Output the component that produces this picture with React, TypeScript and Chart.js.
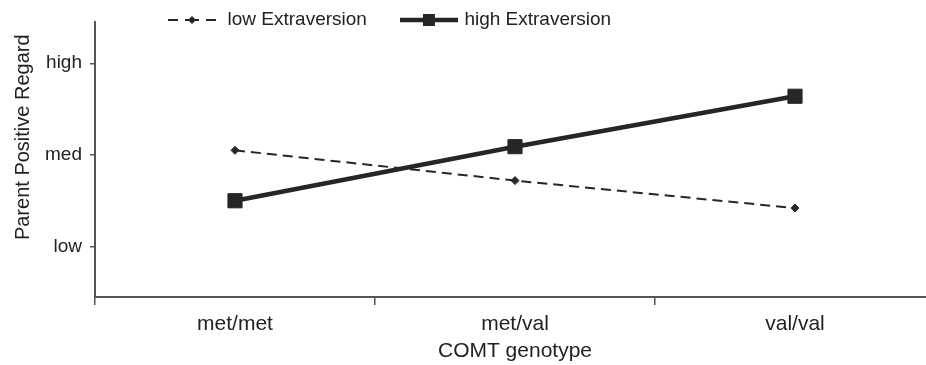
import React, { useEffect, useRef } from 'react';
import { Chart, registerables } from 'chart.js';

Chart.register(...registerables);

const categories = ['met/met', 'met/val', 'val/val'];
const lowExtraversion = [2.05, 1.72, 1.42];
const highExtraversion = [1.5, 2.09, 2.64];
const yTickValues = [1, 2, 3];
const yTickLabels = ['low', 'med', 'high'];
const seriesNames = ['low Extraversion', 'high Extraversion'];
const xTitle = 'COMT genotype';
const yTitle = 'Parent Positive Regard';

const FONT = "'Liberation Sans', Arial, Helvetica, sans-serif";
const INK = '#262626';
const TEXT = '#222222';
const AXIS = '#555555';

const LEGEND_PAD = 36;
const LEGEND_FONT = 19;
const PLOT_TOP = 22;

function makeDashedSample(): HTMLCanvasElement {
  const c = document.createElement('canvas');
  c.width = 50;
  c.height = 12;
  const ctx = c.getContext('2d')!;
  ctx.strokeStyle = INK;
  ctx.lineWidth = 2;
  ctx.beginPath();
  ctx.moveTo(1, 6); ctx.lineTo(11, 6);
  ctx.moveTo(18, 6); ctx.lineTo(32, 6);
  ctx.moveTo(39, 6); ctx.lineTo(49, 6);
  ctx.stroke();
  ctx.fillStyle = INK;
  ctx.beginPath();
  ctx.moveTo(25, 2); ctx.lineTo(29, 6); ctx.lineTo(25, 10); ctx.lineTo(21, 6);
  ctx.closePath();
  ctx.fill();
  return c;
}

function makeSolidSample(): HTMLCanvasElement {
  const c = document.createElement('canvas');
  c.width = 58;
  c.height = 16;
  const ctx = c.getContext('2d')!;
  ctx.strokeStyle = INK;
  ctx.lineWidth = 4.5;
  ctx.beginPath();
  ctx.moveTo(0, 8); ctx.lineTo(58, 8);
  ctx.stroke();
  ctx.fillStyle = INK;
  ctx.fillRect(23, 2, 12, 12);
  return c;
}

const legendPlacement = {
  id: 'legendPlacement',
  afterLayout(chart: any) {
    const lg = chart.legend;
    if (!lg) return;
    const w = lg.right - lg.left;
    const h = lg.bottom - lg.top;
    lg.left = 166 - LEGEND_PAD;
    lg.right = lg.left + w;
    lg.top = 20 - LEGEND_PAD - LEGEND_FONT / 2;
    lg.bottom = lg.top + h + 20;
  },
};

export default function App() {
  const ref = useRef<HTMLCanvasElement | null>(null);

  useEffect(() => {
    if (!ref.current) return;
    const samples = [makeDashedSample(), makeSolidSample()];
    const chart = new Chart(ref.current, {
      type: 'line',
      data: {
        labels: categories,
        datasets: [
          {
            label: seriesNames[0],
            data: lowExtraversion,
            borderColor: INK,
            borderWidth: 2,
            borderDash: [10, 6],
            pointStyle: 'rectRot',
            pointRadius: 4,
            pointBackgroundColor: INK,
            pointBorderColor: INK,
            pointBorderWidth: 1,
            fill: false,
            tension: 0,
            order: 1,
          },
          {
            label: seriesNames[1],
            data: highExtraversion,
            borderColor: INK,
            borderWidth: 4.5,
            pointStyle: 'rect',
            pointRadius: 10,
            pointBackgroundColor: INK,
            pointBorderColor: INK,
            pointBorderWidth: 1,
            fill: false,
            tension: 0,
            order: 0,
          },
        ],
      },
      options: {
        responsive: false,
        animation: false,
        devicePixelRatio: 1,
        layout: {
          autoPadding: false,
          padding: { top: 8 - (LEGEND_FONT + 2 * LEGEND_PAD), left: 0, right: 0, bottom: 0 },
        },
        plugins: {
          tooltip: { enabled: false },
          legend: {
            display: true,
            position: 'top',
            align: 'start',
            labels: {
              usePointStyle: true,
              pointStyleWidth: 52,
              padding: LEGEND_PAD,
              color: TEXT,
              font: { family: FONT, size: LEGEND_FONT },
              generateLabels: (ch: any) =>
                ch.data.datasets.map((ds: any, i: number) => ({
                  text: ds.label,
                  pointStyle: samples[i],
                  datasetIndex: i,
                  hidden: false,
                  fillStyle: INK,
                  strokeStyle: INK,
                  lineWidth: 0,
                  fontColor: TEXT,
                })),
            },
          },
        },
        scales: {
          x: {
            type: 'category',
            offset: true,
            grid: {
              offset: true,
              drawOnChartArea: false,
              drawTicks: true,
              tickLength: 8,
              color: AXIS,
              lineWidth: 1.5,
            },
            border: { display: true, color: AXIS, width: 2 },
            ticks: {
              color: TEXT,
              font: { family: FONT, size: 21, lineHeight: 1 },
              padding: 9,
              maxRotation: 0,
              autoSkip: false,
            },
            title: {
              display: true,
              text: xTitle,
              color: TEXT,
              font: { family: FONT, size: 21, lineHeight: 1 },
              padding: { top: 6, bottom: 3 },
            },
            afterFit: (s: any) => {
              s.height = 68;
              s.paddingLeft = 0;
              s.paddingRight = 0;
            },
          },
          y: {
            type: 'linear',
            min: 0.45,
            max: 3.45,
            afterBuildTicks: (s: any) => {
              s.ticks = yTickValues.map((v) => ({ value: v }));
            },
            grid: {
              drawOnChartArea: false,
              drawTicks: true,
              tickLength: 5,
              color: AXIS,
              lineWidth: 1.5,
            },
            border: { display: true, color: AXIS, width: 2 },
            ticks: {
              color: TEXT,
              font: { family: FONT, size: 19 },
              padding: 8,
              callback: (v: any) => {
                const i = yTickValues.indexOf(Number(v));
                return i >= 0 ? yTickLabels[i] : '';
              },
            },
            title: {
              display: true,
              text: '\u00a0'.repeat(8) + yTitle,
              color: TEXT,
              font: { family: FONT, size: 20, lineHeight: 1 },
              padding: { top: 13, bottom: 10 },
            },
            afterFit: (s: any) => {
              s.width = 95;
              s.paddingTop = PLOT_TOP;
              s.paddingBottom = 0;
            },
          },
        },
      },
      plugins: [legendPlacement],
    } as any);
    return () => chart.destroy();
  }, []);

  return (
    <div
      style={{
        position: 'fixed',
        left: 0,
        top: 0,
        width: 926,
        height: 365,
        overflow: 'hidden',
        background: '#ffffff',
      }}
    >
      <canvas ref={ref} width={935} height={365} style={{ display: 'block' }} />
    </div>
  );
}
